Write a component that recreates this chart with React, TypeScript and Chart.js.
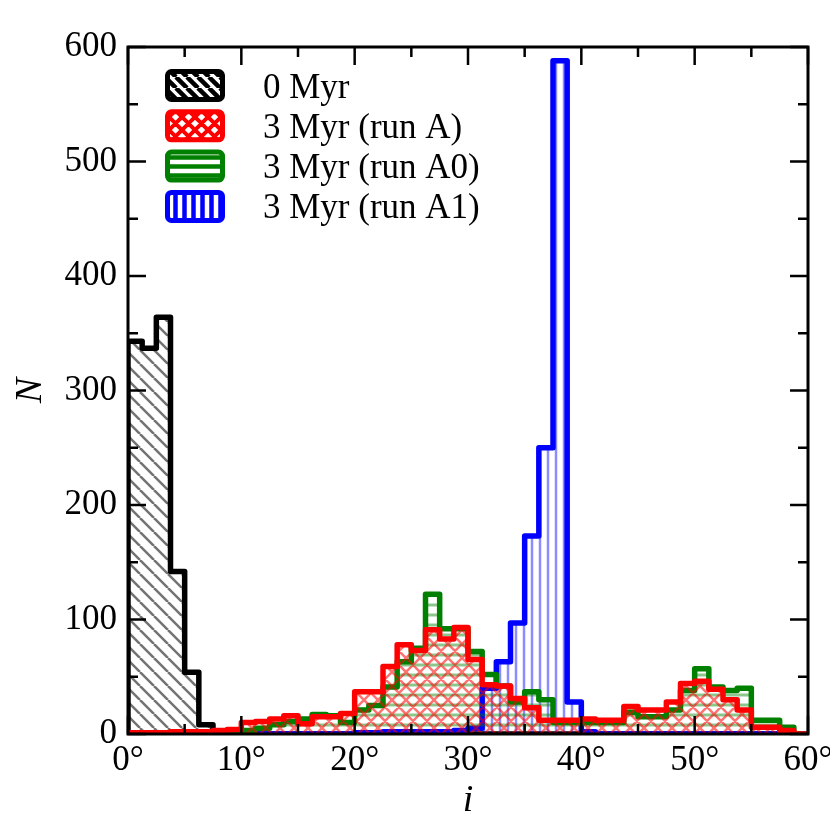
import React, { useEffect, useRef } from 'react';
import { Chart, registerables } from 'chart.js';

Chart.register(...registerables);

const FONT = "'Liberation Serif', 'Times New Roman', serif";

// Histogram binning (degrees)
const BIN_WIDTH = 1.25;
const X_MIN = 0;
const X_MAX = 60;
const X_MAJOR_STEP = 10;
const X_MINOR_STEP = 5;
const Y_MIN = 0;
const Y_MAX = 600;
const Y_MAJOR_STEP = 100;
const Y_MINOR_STEP = 50;

const SERIES_LABELS = ['0 Myr', '3 Myr (run A)', '3 Myr (run A0)', '3 Myr (run A1)'];
const SERIES_COLORS = ['#000000', '#ff0000', '#008000', '#0000ff'];

// Counts per 1.25° bin, 0°–60° (48 bins)
const N_0MYR = [
  343, 337, 364, 142, 54, 8, 0, 0, 0, 0, 0, 0,
  0, 0, 0, 0, 0, 0, 0, 0, 0, 0, 0, 0,
  0, 0, 0, 0, 0, 0, 0, 0, 0, 0, 0, 0,
  0, 0, 0, 0, 0, 0, 0, 0, 0, 0, 0, 0,
];
const N_RUN_A = [
  1, 1, 1, 2, 2, 2, 3, 4, 10, 11, 13, 16,
  9, 15, 15, 18, 37, 37, 59, 78, 73, 91, 83, 93,
  65, 43, 42, 31, 23, 12, 12, 12, 13, 12, 12, 24,
  21, 21, 28, 44, 46, 39, 30, 21, 6, 6, 3, 0,
];
const N_RUN_A0 = [
  0, 0, 0, 0, 0, 0, 0, 0, 3, 5, 8, 11,
  13, 17, 16, 10, 21, 25, 41, 63, 75, 122, 92, 92,
  72, 52, 42, 28, 37, 30, 10, 10, 10, 10, 10, 19,
  15, 15, 21, 38, 57, 41, 38, 40, 12, 12, 6, 0,
];
const N_RUN_A1 = [
  0, 0, 0, 0, 0, 0, 0, 0, 0, 0, 0, 0,
  0, 0, 0, 0, 1, 1, 2, 2, 2, 2, 2, 3,
  5, 40, 63, 97, 173, 250, 588, 28, 2, 0, 0, 0,
  0, 0, 0, 0, 0, 0, 0, 0, 0, 0, 0, 0,
];

function histPoints(values: number[]) {
  const pts: { x: number; y: number }[] = [{ x: X_MIN, y: 0 }];
  values.forEach((v, i) => pts.push({ x: X_MIN + i * BIN_WIDTH, y: v }));
  const end = X_MIN + values.length * BIN_WIDTH;
  pts.push({ x: end, y: values[values.length - 1] });
  pts.push({ x: end, y: 0 });
  return pts;
}

type HatchKind = 'back' | 'cross' | 'horiz' | 'vert';

function makeHatch(kind: HatchKind, size: number, color: string, lw: number, bg?: string) {
  const c = document.createElement('canvas');
  c.width = size;
  c.height = size;
  const g = c.getContext('2d')!;
  if (bg) {
    g.fillStyle = bg;
    g.fillRect(0, 0, size, size);
  }
  g.strokeStyle = color;
  g.lineWidth = lw;
  g.beginPath();
  if (kind === 'back' || kind === 'cross') {
    for (let k = -1; k <= 1; k++) {
      g.moveTo(k * size, 0);
      g.lineTo(k * size + size, size);
    }
  }
  if (kind === 'cross') {
    for (let k = -1; k <= 1; k++) {
      g.moveTo(k * size + size, 0);
      g.lineTo(k * size, size);
    }
  }
  if (kind === 'horiz') {
    g.moveTo(0, size / 2);
    g.lineTo(size, size / 2);
  }
  if (kind === 'vert') {
    g.moveTo(size / 2, 0);
    g.lineTo(size / 2, size);
  }
  g.stroke();
  return g.createPattern(c, 'repeat')!;
}

export default function App() {
  const ref = useRef<HTMLCanvasElement>(null);

  useEffect(() => {
    const hatchFill = [
      makeHatch('back', 14, 'rgba(0,0,0,0.55)', 2.5),
      makeHatch('cross', 14, 'rgba(255,0,0,0.55)', 2.5),
      makeHatch('horiz', 10, 'rgba(0,128,0,0.45)', 3),
      makeHatch('vert', 8, 'rgba(0,0,255,0.45)', 2.5),
    ];
    const legendFill = [
      makeHatch('back', 11, '#000000', 4.5, '#ffffff'),
      makeHatch('cross', 13, '#ff0000', 4, '#ffffff'),
      makeHatch('horiz', 9, '#008000', 4.5, '#ffffff'),
      makeHatch('vert', 9, '#0000ff', 4.5, '#ffffff'),
    ];
    const seriesValues = [N_0MYR, N_RUN_A, N_RUN_A0, N_RUN_A1];
    const drawOrder = [3, 0, 1, 2];

    const framePlugin = {
      id: 'frameTicks',
      afterDatasetsDraw(chart: any) {
        const { ctx, chartArea } = chart;
        const { left, right, top, bottom } = chartArea;
        const xs = chart.scales.x;
        const ys = chart.scales.y;
        ctx.save();
        ctx.strokeStyle = '#000';
        ctx.lineWidth = 2.5;
        ctx.beginPath();
        for (let v = X_MIN; v <= X_MAX + 1e-9; v += X_MINOR_STEP) {
          const len = Math.abs(v % X_MAJOR_STEP) < 1e-9 ? 18 : 10;
          const px = xs.getPixelForValue(v);
          ctx.moveTo(px, bottom);
          ctx.lineTo(px, bottom - len);
          ctx.moveTo(px, top);
          ctx.lineTo(px, top + len);
        }
        for (let v = Y_MIN; v <= Y_MAX + 1e-9; v += Y_MINOR_STEP) {
          const len = Math.abs(v % Y_MAJOR_STEP) < 1e-9 ? 18 : 10;
          const py = ys.getPixelForValue(v);
          ctx.moveTo(left, py);
          ctx.lineTo(left + len, py);
          ctx.moveTo(right, py);
          ctx.lineTo(right - len, py);
        }
        ctx.stroke();
        ctx.lineWidth = 3;
        ctx.strokeRect(left, top, right - left, bottom - top);
        ctx.restore();
      },
    };

    const legendPlugin = {
      id: 'hatchLegend',
      afterDraw(chart: any) {
        const { ctx } = chart;
        ctx.save();
        const bx = 167.5;
        const bw = 55;
        const bh = 28;
        const rowTop = 85.5;
        const rowGap = 40.3;
        SERIES_LABELS.forEach((label, i) => {
          const cy = rowTop + i * rowGap;
          const by = cy - bh / 2;
          ctx.beginPath();
          ctx.roundRect(bx, by, bw, bh, 4);
          ctx.fillStyle = legendFill[i];
          ctx.fill();
          ctx.lineWidth = 5;
          ctx.strokeStyle = SERIES_COLORS[i];
          ctx.stroke();
          ctx.fillStyle = '#000';
          ctx.font = `35px ${FONT}`;
          ctx.textAlign = 'left';
          ctx.textBaseline = 'alphabetic';
          ctx.fillText(label, 263, cy + 12);
        });
        ctx.restore();
      },
    };

    const chart = new Chart(ref.current!, {
      type: 'line',
      data: {
        datasets: seriesValues.map((vals, i) => ({
          label: SERIES_LABELS[i],
          data: histPoints(vals),
          borderColor: SERIES_COLORS[i],
          backgroundColor: hatchFill[i] as any,
          fill: 'origin',
          stepped: 'before' as const,
          borderWidth: 5.5,
          pointRadius: 0,
          tension: 0,
          borderJoinStyle: 'round' as const,
          borderCapStyle: 'round' as const,
          order: drawOrder[i],
        })),
      },
      options: {
        responsive: false,
        devicePixelRatio: 1,
        animation: false,
        events: [],
        layout: { padding: { left: 0, right: 22, top: 47, bottom: 0 } },
        plugins: {
          legend: { display: false },
          tooltip: { enabled: false },
        },
        scales: {
          x: {
            type: 'linear',
            min: X_MIN,
            max: X_MAX,
            grid: { display: false, drawTicks: false },
            border: { display: false },
            ticks: {
              stepSize: X_MAJOR_STEP,
              autoSkip: false,
              maxRotation: 0,
              padding: 6,
              color: '#000',
              font: { family: FONT, size: 35 },
              callback: (v: any) => `${v}°`,
            },
            title: {
              display: true,
              text: 'i',
              color: '#000',
              font: { family: FONT, size: 38, style: 'italic' },
              padding: { top: 0, bottom: 6 },
            },
            afterFit: (s: any) => {
              s.height = 96;
              s.paddingLeft = 0;
              s.paddingRight = 0;
            },
          },
          y: {
            type: 'linear',
            min: Y_MIN,
            max: Y_MAX,
            grid: { display: false, drawTicks: false },
            border: { display: false },
            ticks: {
              stepSize: Y_MAJOR_STEP,
              padding: 11,
              color: '#000',
              font: { family: FONT, size: 35 },
            },
            title: {
              display: true,
              text: 'N',
              color: '#000',
              font: { family: FONT, size: 38, style: 'italic' },
              padding: { top: 8, bottom: 0 },
            },
            afterFit: (s: any) => {
              s.width = 128;
              s.paddingTop = 0;
              s.paddingBottom = 0;
            },
          },
        },
      },
      plugins: [framePlugin, legendPlugin],
    });
    return () => chart.destroy();
  }, []);

  return (
    <div style={{ position: 'absolute', left: 0, top: 0, width: 830, height: 830, background: '#fff' }}>
      <canvas ref={ref} width={830} height={830} style={{ width: 830, height: 830, display: 'block' }} />
    </div>
  );
}
